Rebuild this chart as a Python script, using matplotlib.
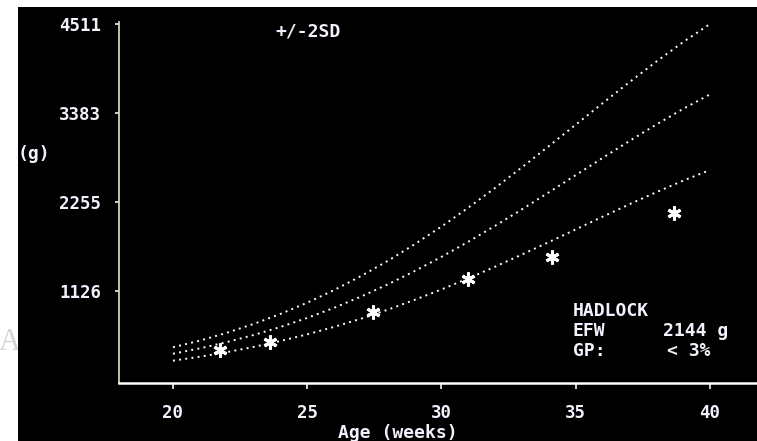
import matplotlib
matplotlib.use("Agg")
import matplotlib.pyplot as plt
from matplotlib.patches import Rectangle

# Hadlock EFW chart, mean and +/-2SD
weeks = list(range(20, 41))
mean_g = [331, 399, 478, 568, 670, 785, 913, 1055, 1210, 1379, 1559,
          1751, 1953, 2162, 2377, 2595, 2813, 3028, 3236, 3435, 3619]
upper_g = [413, 497, 596, 708, 835, 978, 1138, 1315, 1508, 1719, 1943,
           2183, 2434, 2695, 2963, 3235, 3506, 3774, 4034, 4282, 4511]
lower_g = [243, 293, 351, 417, 492, 577, 671, 775, 889, 1014, 1146,
           1287, 1435, 1589, 1747, 1907, 2068, 2226, 2378, 2525, 2660]

# measured exams
exam_weeks = [21.75, 23.6, 27.45, 31.0, 34.1, 38.65]
exam_g = [378, 483, 864, 1278, 1561, 2111]

xticks = [20, 25, 30, 35, 40]
yticks = [1126, 2255, 3383, 4511]

W, H = 757, 441
FONT = "DejaVu Sans Mono"
FG = "#f2f2ff"


def fx(x):
    return x / W


def fy(y):
    return 1 - y / H


fig = plt.figure(figsize=(W / 100, H / 100), dpi=100, facecolor="white")
# black screen area, white border top/left
fig.patches.append(Rectangle((fx(17.5), 0), 1, fy(6.7), transform=fig.transFigure,
                             facecolor="black", edgecolor="none", zorder=-1))
fig.text(fx(-1), fy(342), "A", family="Liberation Serif", fontsize=22,
         color="#d4d4d4", va="center", ha="left", zorder=-2)

ax = fig.add_axes([fx(119), fy(383), fx(638), 361 / H])
ax.set_facecolor("black")

dots = (0, (1, 2.2))
for vals in (upper_g, mean_g, lower_g):
    ax.plot(weeks, vals, color="white", linewidth=1.4, linestyle=dots)

ax.plot(exam_weeks, exam_g, linestyle="none", marker=(6, 2, 0),
        markersize=10, markeredgewidth=2.2, color="white")

ax.set_xlim(17.99, 41.75)
ax.set_ylim(-40, 4536)

for s in ("top", "right"):
    ax.spines[s].set_visible(False)
ax.spines["left"].set_color("#d8cfb4")
ax.spines["left"].set_linewidth(1.3)
ax.spines["bottom"].set_color("white")
ax.spines["bottom"].set_linewidth(1.8)

ax.set_xticks(xticks)
ax.set_xticklabels([str(t) for t in xticks])
ax.set_yticks(yticks)
ax.set_yticklabels([str(t) for t in yticks])
ax.tick_params(axis="x", colors=FG, length=4, width=1.2, pad=11, labelsize=12.5)
ax.tick_params(axis="y", colors=FG, length=3, width=1.2, pad=10, labelsize=12.5)
for lab in ax.get_xticklabels() + ax.get_yticklabels():
    lab.set_family(FONT)
    lab.set_weight("bold")

txt = dict(family=FONT, weight="bold", color=FG, fontsize=13, va="center", ha="left")
fig.text(fx(18), fy(154), "(g)", **txt)
fig.text(fx(275), fy(31), "+/-2SD", **txt)
fig.text(fx(338), fy(433), "Age (weeks)", **txt)
fig.text(fx(573), fy(311.5), "HADLOCK", **txt)
fig.text(fx(573), fy(331.5), "EFW", **txt)
fig.text(fx(573), fy(351.5), "GP:", **txt)
fig.text(fx(663), fy(331.5), "2144 g", **txt)
fig.text(fx(667), fy(351.5), "< 3%", **txt)

fig.savefig("out.png", dpi=100, facecolor="white")
